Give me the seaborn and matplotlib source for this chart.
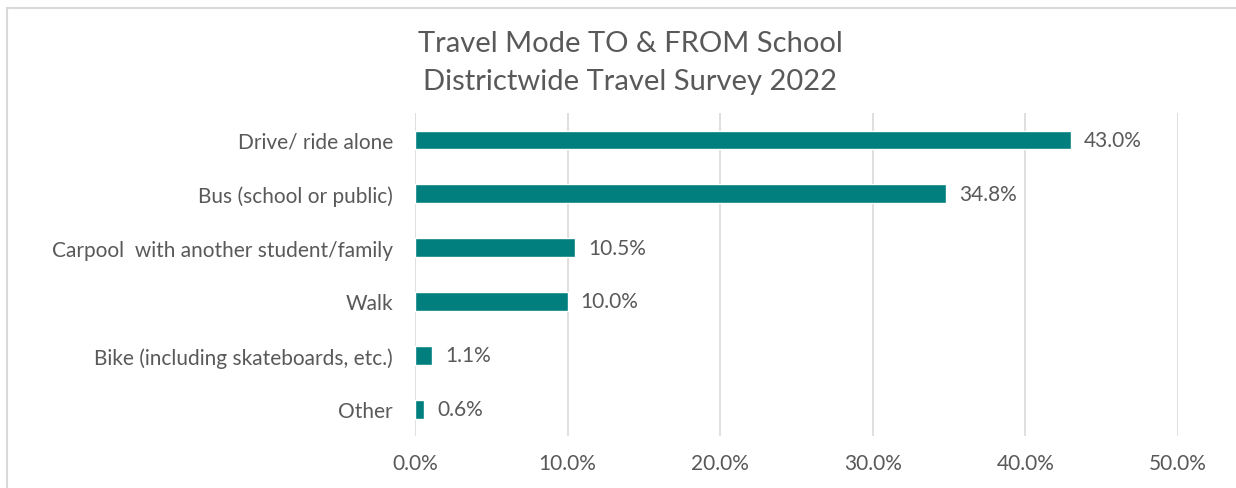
import pandas as pd
import seaborn as sns
import matplotlib.pyplot as plt
from matplotlib.patches import Rectangle
from matplotlib.ticker import FuncFormatter

# survey results, share of responses
modes = ['Drive/ ride alone', 'Bus (school or public)', 'Carpool  with another student/family',
         'Walk', 'Bike (including skateboards, etc.)', 'Other']
shares = [43.0, 34.8, 10.5, 10.0, 1.1, 0.6]
ticks = [0, 10, 20, 30, 40, 50]

df = pd.DataFrame({'mode': modes, 'share': shares})

sns.set_style('white')
plt.rcParams['font.family'] = ['Lato', 'DejaVu Sans']
grey = '#595959'

fig = plt.figure(figsize=(12.36, 4.89), dpi=100)
ax = fig.add_axes([0.3358, 0.1063, 0.6173, 0.6605])

sns.barplot(data=df, x='share', y='mode', color='#007F7E', width=0.35,
            saturation=1, orient='h', ax=ax)

# value labels next to each bar
for i, v in enumerate(shares):
    ax.text(v + 0.85, i, f'{v:.1f}%', va='center', ha='left', fontsize=15, color=grey)

ax.set_xlim(0, 50)
ax.set_ylim(5.5, -0.5)
ax.set_xticks(ticks)
ax.xaxis.set_major_formatter(FuncFormatter(lambda x, p: f'{x:.1f}%'))
ax.grid(axis='x', color='#d9d9d9', linewidth=1.2)
ax.set_axisbelow(True)
for s in ax.spines.values():
    s.set_visible(False)
ax.tick_params(axis='both', length=0, labelsize=15, colors=grey)
ax.tick_params(axis='x', pad=12)
ax.tick_params(axis='y', pad=16)
ax.set_xlabel('')
ax.set_ylabel('')

fig.text(0.51, 0.910, 'Travel Mode TO & FROM School', ha='center', va='center',
         fontsize=21, color=grey)
fig.text(0.51, 0.832, 'Districtwide Travel Survey 2022', ha='center', va='center',
         fontsize=21, color=grey)

# chart area border
fig.patches.append(Rectangle((7 / 1236, -0.1), 1.2, 1 - 9 / 489 + 0.1,
                             transform=fig.transFigure, fill=False,
                             edgecolor='#d9d9d9', linewidth=1.5))

fig.savefig('out.png', dpi=100)
